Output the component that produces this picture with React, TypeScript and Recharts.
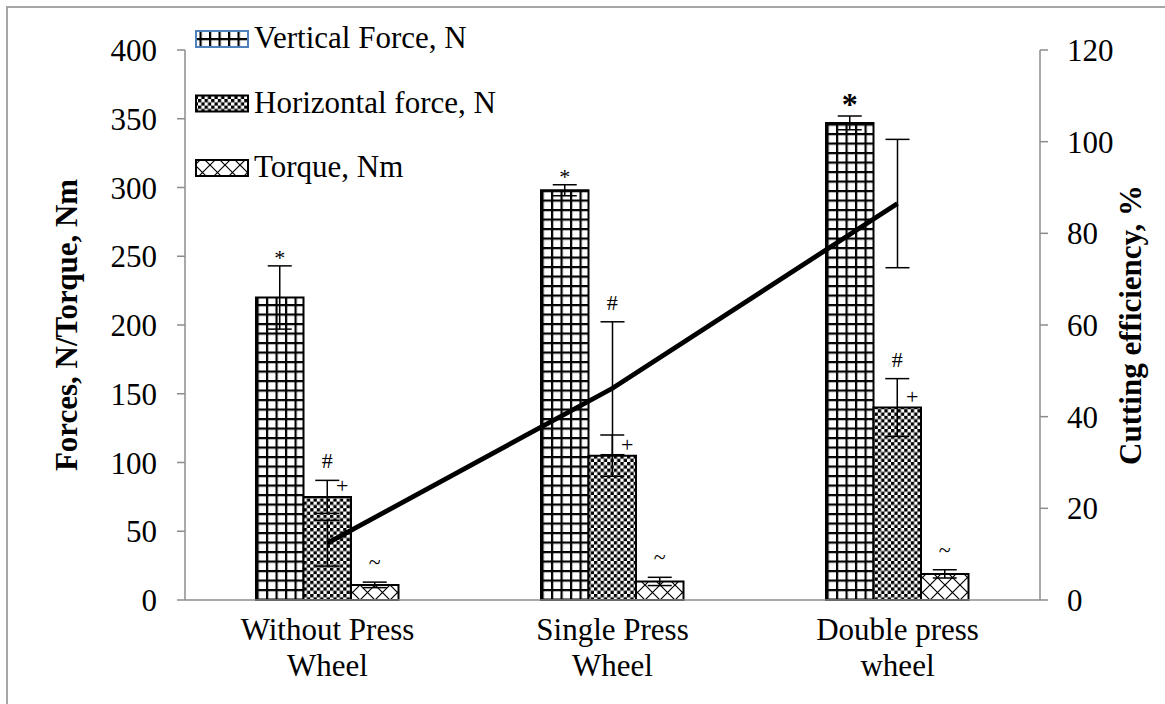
import React from 'react';
import { ComposedChart, Bar, Line, XAxis, YAxis, ErrorBar, LabelList } from 'recharts';

// categories and their two-line axis labels
const categories = ['Without Press Wheel', 'Single Press Wheel', 'Double press wheel'];
const categoryLines = [
  ['Without Press', 'Wheel'],
  ['Single Press', 'Wheel'],
  ['Double press', 'wheel'],
];

// bar series (left axis)
const verticalForce = [220, 298, 347];
const verticalForceErr = [23, 4, 5];
const horizontalForce = [75, 105, 140];
const horizontalForceErr = [12, 15, 21];
const torque = [11, 13.5, 19];
const torqueErr = [2, 3, 3];

// line series (right axis)
const cuttingEfficiency = [12.4, 46.2, 86.5];
const cuttingEfficiencyErr = [5, 14.5, 14];

// significance marks
const verticalMarks = ['*', '*', '*'];
const horizontalMarks = ['#', '#', '#'];
const horizontalMarkOnLineError = [false, true, false]; // '#' sits over the efficiency error bar
const horizontalSideMarks = ['+', '+', '+'];
const torqueMarks = ['~', '~', '~'];

const leftTicks = [0, 50, 100, 150, 200, 250, 300, 350, 400];
const rightTicks = [0, 20, 40, 60, 80, 100, 120];

const FONT = '"Liberation Serif", "Times New Roman", serif';
const AXIS_GRAY = '#8c8c8c';

const data = categories.map((name, i) => ({
  name,
  i,
  vf: verticalForce[i],
  vfErr: verticalForceErr[i],
  hf: horizontalForce[i],
  hfErr: horizontalForceErr[i],
  tq: torque[i],
  tqErr: torqueErr[i],
  eff: cuttingEfficiency[i],
  effErr: cuttingEfficiencyErr[i],
}));

// reads the bar rectangle from label props (v2 / v3 shapes)
const barBox = (props: any) => {
  const vb = props.viewBox ?? {};
  const x = Number(props.x ?? vb.x);
  const y = Number(props.y ?? vb.y);
  const width = Number(props.width ?? vb.width);
  const height = Number(props.height ?? vb.height);
  return { x, y, width, height };
};

const markAboveError =
  (values: number[], errs: number[], marks: string[], gap: number, sizeFor: (i: number) => number) =>
  (props: any) => {
    const i = Number(props.value);
    const { x, y, width, height } = barBox(props);
    const pxPerUnit = height / values[i];
    const errTop = y - errs[i] * pxPerUnit;
    return (
      <text
        x={x + width / 2}
        y={errTop - gap}
        textAnchor="middle"
        fontFamily={FONT}
        fontSize={sizeFor(i)}
        fontWeight={sizeFor(i) > 24 ? 'bold' : 'normal'}
        fill="#000"
      >
        {marks[i]}
      </text>
    );
  };

// '#' above the horizontal-force error bar, or above the efficiency error bar where they join
const hashMark = (props: any) => {
  const i = Number(props.value);
  const { x, y, width, height } = barBox(props);
  const pxLeft = height / horizontalForce[i];
  const pxRight = (pxLeft * leftTicks[leftTicks.length - 1]) / rightTicks[rightTicks.length - 1];
  const bottom = y + height;
  const barErrTop = y - horizontalForceErr[i] * pxLeft;
  const lineErrTop = bottom - (cuttingEfficiency[i] + cuttingEfficiencyErr[i]) * pxRight;
  const top = horizontalMarkOnLineError[i] ? lineErrTop : barErrTop;
  return (
    <text x={x + width / 2} y={top - 12} textAnchor="middle" fontFamily={FONT} fontSize={22} fill="#000">
      {horizontalMarks[i]}
    </text>
  );
};

const plusMark = (props: any) => {
  const i = Number(props.value);
  const { x, y, width } = barBox(props);
  return (
    <text x={x + width / 2 + 15} y={y - 4} textAnchor="middle" fontFamily={FONT} fontSize={22} fill="#000">
      {horizontalSideMarks[i]}
    </text>
  );
};

const CategoryTick = (props: any) => {
  const { x, y, payload } = props;
  const idx = payload?.index ?? categories.indexOf(payload?.value);
  const lines = categoryLines[idx] ?? [String(payload?.value)];
  return (
    <text x={x} y={y} textAnchor="middle" fontFamily={FONT} fontSize={31} fill="#000">
      {lines.map((l, k) => (
        <tspan key={k} x={x} dy={k === 0 ? 38 : 36}>
          {l}
        </tspan>
      ))}
    </text>
  );
};

const leftTitle = (props: any) => {
  const vb = props.viewBox;
  const cx = vb.x + 66;
  const cy = vb.y + vb.height / 2;
  return (
    <text
      transform={`translate(${cx},${cy}) rotate(-90)`}
      textAnchor="middle"
      dominantBaseline="central"
      fontFamily={FONT}
      fontSize={31}
      fontWeight="bold"
      fill="#000"
    >
      Forces, N/Torque, Nm
    </text>
  );
};

const rightTitle = (props: any) => {
  const vb = props.viewBox;
  const cx = vb.x + 90;
  const cy = vb.y + vb.height / 2;
  return (
    <text
      transform={`translate(${cx},${cy}) rotate(-90)`}
      textAnchor="middle"
      dominantBaseline="central"
      fontFamily={FONT}
      fontSize={31}
      fontWeight="bold"
      fill="#000"
    >
      Cutting efficiency, %
    </text>
  );
};

const Patterns = ({ prefix }: { prefix: string }) => (
  <defs>
    <pattern id={`${prefix}grid`} width="9.5" height="9.5" patternUnits="userSpaceOnUse">
      <rect width="9.5" height="9.5" fill="#fff" />
      <rect width="2.2" height="9.5" fill="#000" />
      <rect width="9.5" height="2.2" fill="#000" />
    </pattern>
    <pattern id={`${prefix}check`} width="6.6" height="6.6" patternUnits="userSpaceOnUse">
      <rect width="6.6" height="6.6" fill="#fff" />
      <rect width="3.3" height="3.3" fill="#000" />
      <rect x="3.3" y="3.3" width="3.3" height="3.3" fill="#000" />
    </pattern>
    <pattern id={`${prefix}cross`} width="15" height="15" patternUnits="userSpaceOnUse">
      <rect width="15" height="15" fill="#fff" />
      <path d="M0 0L15 15M15 0L0 15" stroke="#000" strokeWidth="1.2" />
    </pattern>
  </defs>
);

const legendItems = [
  { label: 'Vertical Force, N', fill: 'lg-grid', stroke: '#4f81bd' },
  { label: 'Horizontal force, N', fill: 'lg-check', stroke: '#000' },
  { label: 'Torque, Nm', fill: 'lg-cross', stroke: '#000' },
];

const ChartLegend = () => (
  <svg width={520} height={200} style={{ position: 'absolute', left: 0, top: 0 }}>
    <Patterns prefix="lg-" />
    {legendItems.map((item, k) => (
      <g key={item.label}>
        <rect
          x={196}
          y={31 + k * 64.5}
          width={52}
          height={16}
          fill={`url(#${item.fill})`}
          stroke={item.stroke}
          strokeWidth={2}
        />
        <text x={254} y={48 + k * 64.5} fontFamily={FONT} fontSize={31} fill="#000">
          {item.label}
        </text>
      </g>
    ))}
  </svg>
);

export default function App() {
  return (
    <div style={{ position: 'absolute', left: 0, top: 0, width: 1165, height: 704, overflow: 'hidden', background: '#fff' }}>
      <div
        style={{
          position: 'absolute',
          left: 6,
          top: 6,
          width: 1159,
          height: 698,
          borderTop: '2px solid #a6a6a6',
          borderLeft: '2px solid #a6a6a6',
          boxSizing: 'border-box',
        }}
      />
      <ComposedChart
        width={1165}
        height={704}
        data={data}
        margin={{ top: 50, right: 0, bottom: 0, left: 0 }}
        barGap={0}
        style={{ position: 'absolute', left: 0, top: 0 }}
      >
        <Patterns prefix="ch-" />
        <XAxis
          dataKey="name"
          height={104}
          axisLine={{ stroke: AXIS_GRAY, strokeWidth: 1.5 }}
          tickLine={false}
          tickSize={0}
          tick={<CategoryTick />}
          interval={0}
        />
        <YAxis
          yAxisId="left"
          width={185}
          domain={[0, 400]}
          ticks={leftTicks}
          axisLine={{ stroke: AXIS_GRAY, strokeWidth: 1.5 }}
          tickLine={{ stroke: AXIS_GRAY, strokeWidth: 1.5 }}
          tickSize={8}
          tickMargin={20}
          tick={{ fontFamily: FONT, fontSize: 31, fill: '#000' }}
          label={leftTitle}
        />
        <YAxis
          yAxisId="right"
          orientation="right"
          width={125}
          domain={[0, 120]}
          ticks={rightTicks}
          axisLine={{ stroke: AXIS_GRAY, strokeWidth: 1.5 }}
          tickLine={{ stroke: AXIS_GRAY, strokeWidth: 1.5 }}
          tickSize={8}
          tickMargin={19}
          tick={{ fontFamily: FONT, fontSize: 31, fill: '#000', textAnchor: 'start' }}
          label={rightTitle}
        />
        <Bar
          yAxisId="left"
          dataKey="vf"
          barSize={47.5}
          fill="url(#ch-grid)"
          stroke="#000"
          strokeWidth={2}
          isAnimationActive={false}
        >
          <ErrorBar dataKey="vfErr" width={12} stroke="#000" strokeWidth={1.5} direction="y" />
          <LabelList
            dataKey="i"
            content={markAboveError(verticalForce, verticalForceErr, verticalMarks, 1, (i) => (i === 2 ? 32 : 22))}
          />
        </Bar>
        <Bar
          yAxisId="left"
          dataKey="hf"
          barSize={47.5}
          fill="url(#ch-check)"
          stroke="#000"
          strokeWidth={2}
          isAnimationActive={false}
        >
          <ErrorBar dataKey="hfErr" width={12} stroke="#000" strokeWidth={1.5} direction="y" />
          <LabelList dataKey="i" content={hashMark} />
          <LabelList dataKey="i" content={plusMark} />
        </Bar>
        <Bar
          yAxisId="left"
          dataKey="tq"
          barSize={47.5}
          fill="url(#ch-cross)"
          stroke="#000"
          strokeWidth={2}
          isAnimationActive={false}
        >
          <ErrorBar dataKey="tqErr" width={12} stroke="#000" strokeWidth={1.5} direction="y" />
          <LabelList dataKey="i" content={markAboveError(torque, torqueErr, torqueMarks, 13, () => 22)} />
        </Bar>
        <Line
          yAxisId="right"
          type="linear"
          dataKey="eff"
          stroke="#000"
          strokeWidth={4.8}
          dot={false}
          activeDot={false}
          isAnimationActive={false}
        >
          <ErrorBar dataKey="effErr" width={12} stroke="#000" strokeWidth={1.5} direction="y" />
        </Line>
      </ComposedChart>
      <ChartLegend />
    </div>
  );
}
